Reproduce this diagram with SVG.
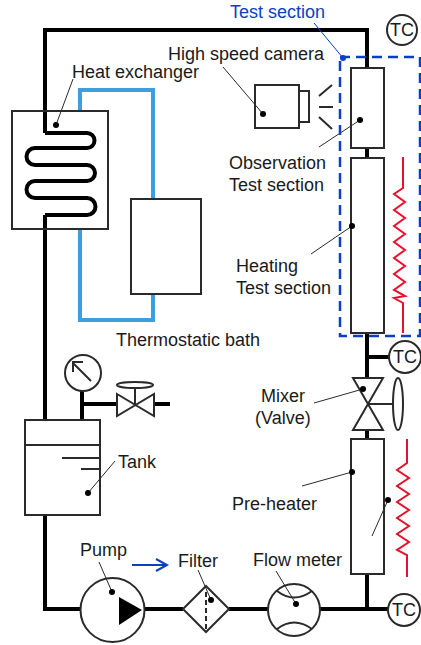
<svg xmlns="http://www.w3.org/2000/svg" width="421" height="645" viewBox="0 0 421 645">
<style>
text{font-family:"Liberation Sans",Arial,sans-serif;font-size:18px;fill:#1a1a1a}
.pipe{fill:none;stroke:#000;stroke-width:4}
.box{fill:#fff;stroke:#2a2a2a;stroke-width:2}
.thin{fill:none;stroke:#2a2a2a;stroke-width:1}
.nf{fill:none;stroke:#2a2a2a;stroke-width:2}
.red{fill:none;stroke:#e8112d;stroke-width:2}
.dot{fill:#000}
</style>
<g id="connectors">
<path class="pipe" d="M367 68V30H45V133"/>
<path class="pipe" d="M45 215V420M45 515V609H80M145 609H183M229 609H268M320 609H388M367 574V609M367 333V378M367 357H389M367 430V439M367 148V158M82 420V391M82 404H117M154 404H170"/>
<path d="M80 111V90H153V199M80 229V320H153V294" fill="none" stroke="#3f9fdc" stroke-width="4"/>
</g>
<g id="heat-exchanger">
<rect class="nf" x="12" y="111" width="96" height="118"/>
<path fill="none" stroke="#000" stroke-width="4" d="M45 133H87A7.500 7.500 0 0 1 87 148H35A8.500 8.500 0 0 0 35 165H87A8 8 0 0 1 87 181H35A8.500 8.500 0 0 0 35 198H87A8.500 8.500 0 0 1 87 215H45"/>
<path class="thin" d="M73 79L56 125"/><circle class="dot" cx="56" cy="125" r="3"/>
<text x="72" y="78">Heat exchanger</text>
</g>
<g id="thermostatic-bath">
<rect class="nf" x="131" y="199" width="70" height="95"/>
<text x="116" y="346">Thermostatic bath</text>
</g>
<g id="gauge">
<circle class="box" cx="83" cy="373" r="18"/>
<path class="nf" d="M91 381L73 363M73 372V362H83"/>
</g>
<g id="valve">
<path class="box" d="M117 394L154 416V394L117 416Z"/>
<path class="nf" d="M135 388V404"/>
<ellipse class="box" cx="135" cy="385" rx="18" ry="3"/>
</g>
<g id="tank">
<rect class="box" x="25" y="420" width="75" height="95"/>
<path class="nf" d="M25 445H100M62 458H100M81 469H100"/>
<path class="thin" d="M115 461L88 493"/><circle class="dot" cx="88" cy="493" r="3"/>
<text x="118" y="468">Tank</text>
</g>
<g id="pump">
<circle class="box" cx="112.500" cy="610" r="32"/>
<path d="M119 597L142 610L119 625Z" fill="#000"/>
<path class="thin" d="M99 562L112 592"/><circle class="dot" cx="112" cy="592" r="3"/>
<text x="80" y="556">Pump</text>
</g>
<g id="flow-arrow">
<path d="M132 565H166M156 559L167 565L156 571" fill="none" stroke="#0b3fc4" stroke-width="2"/>
</g>
<g id="filter">
<path class="box" d="M206 586L229 609L206 632L183 609Z"/>
<path class="nf" d="M206 592V630" stroke-dasharray="5 3"/>
<path class="thin" d="M198 570L211 600"/><circle class="dot" cx="211" cy="600" r="3"/>
<text x="178" y="567">Filter</text>
</g>
<g id="flow-meter">
<circle class="box" cx="294" cy="610" r="26"/>
<path class="nf" d="M277 591Q294 604 312 591M277 629Q294 616 312 629"/>
<path class="thin" d="M276 571L296 604"/><circle class="dot" cx="296" cy="604" r="3"/>
<text x="253" y="566">Flow meter</text>
</g>
<g id="tc-bottom"><circle class="box" cx="404" cy="610" r="16"/><text x="404" y="616" text-anchor="middle">TC</text></g>
<g id="tc-middle"><circle class="box" cx="405" cy="357" r="16"/><text x="405" y="363" text-anchor="middle">TC</text></g>
<g id="tc-top"><circle class="box" cx="402" cy="30" r="15"/><text x="402" y="36" text-anchor="middle">TC</text></g>
<g id="pre-heater">
<rect class="box" x="351" y="439" width="33" height="135"/>
<path class="nf" d="M351 439H384"/>
<path class="red" d="M407 439V463L397 470L409 478L397 486L409 494L397 502L409 510L397 518L409 526L397 534L409 542L397 550L407 555V577"/>
<path class="thin" d="M302 486L352 472"/><circle class="dot" cx="352" cy="472" r="3"/>
<path class="thin" d="M372 536L388 500"/><circle class="dot" cx="388" cy="500" r="3"/>
<text x="232" y="510">Pre-heater</text>
</g>
<g id="mixer">
<path class="box" d="M353 378H383L353 430H383Z"/>
<path class="nf" d="M368 404H392"/>
<ellipse class="box" cx="398" cy="404" rx="5" ry="26"/>
<path class="thin" d="M314 403L363 389"/><circle class="dot" cx="363" cy="389" r="3"/>
<text x="261" y="402">Mixer</text><text x="255" y="424">(Valve)</text>
</g>
<g id="observation-section">
<rect class="box" x="351" y="68" width="33" height="80"/>
<path class="thin" d="M319 147L360 120"/><circle class="dot" cx="360" cy="120" r="3"/>
<text x="229" y="169">Observation</text><text x="229" y="191">Test section</text>
</g>
<g id="heating-section">
<rect class="box" x="351" y="158" width="33" height="175"/>
<path class="red" d="M403 157V188L394 194L405 202L394 210L405 218L394 226L405 234L394 242L405 250L394 258L405 266L394 274L405 282L394 290L405 296L394 298L403 303V333"/>
<path class="thin" d="M311 254L352 226"/><circle class="dot" cx="352" cy="226" r="3"/>
<text x="236" y="272">Heating</text><text x="236" y="294">Test section</text>
</g>
<g id="camera">
<rect class="box" x="255" y="85" width="44" height="43"/>
<rect class="box" x="299" y="91" width="10" height="31"/>
<path class="nf" d="M319 96L332 85M319 107H333M319 117L332 129"/>
<path class="thin" d="M223 67L263 114"/><circle class="dot" cx="263" cy="114" r="3"/>
<text x="168" y="60">High speed camera</text>
</g>
<g id="test-section">
<rect x="340" y="57" width="80" height="279" fill="none" stroke="#0b3fc4" stroke-width="2.500" stroke-dasharray="10 6"/>
<path d="M314 23L343 58" fill="none" stroke="#0b3fc4" stroke-width="1"/><circle cx="343" cy="58" r="3" fill="#0b3fc4"/>
<text x="230" y="18" style="fill:#0b3fc4">Test section</text>
</g>
</svg>
